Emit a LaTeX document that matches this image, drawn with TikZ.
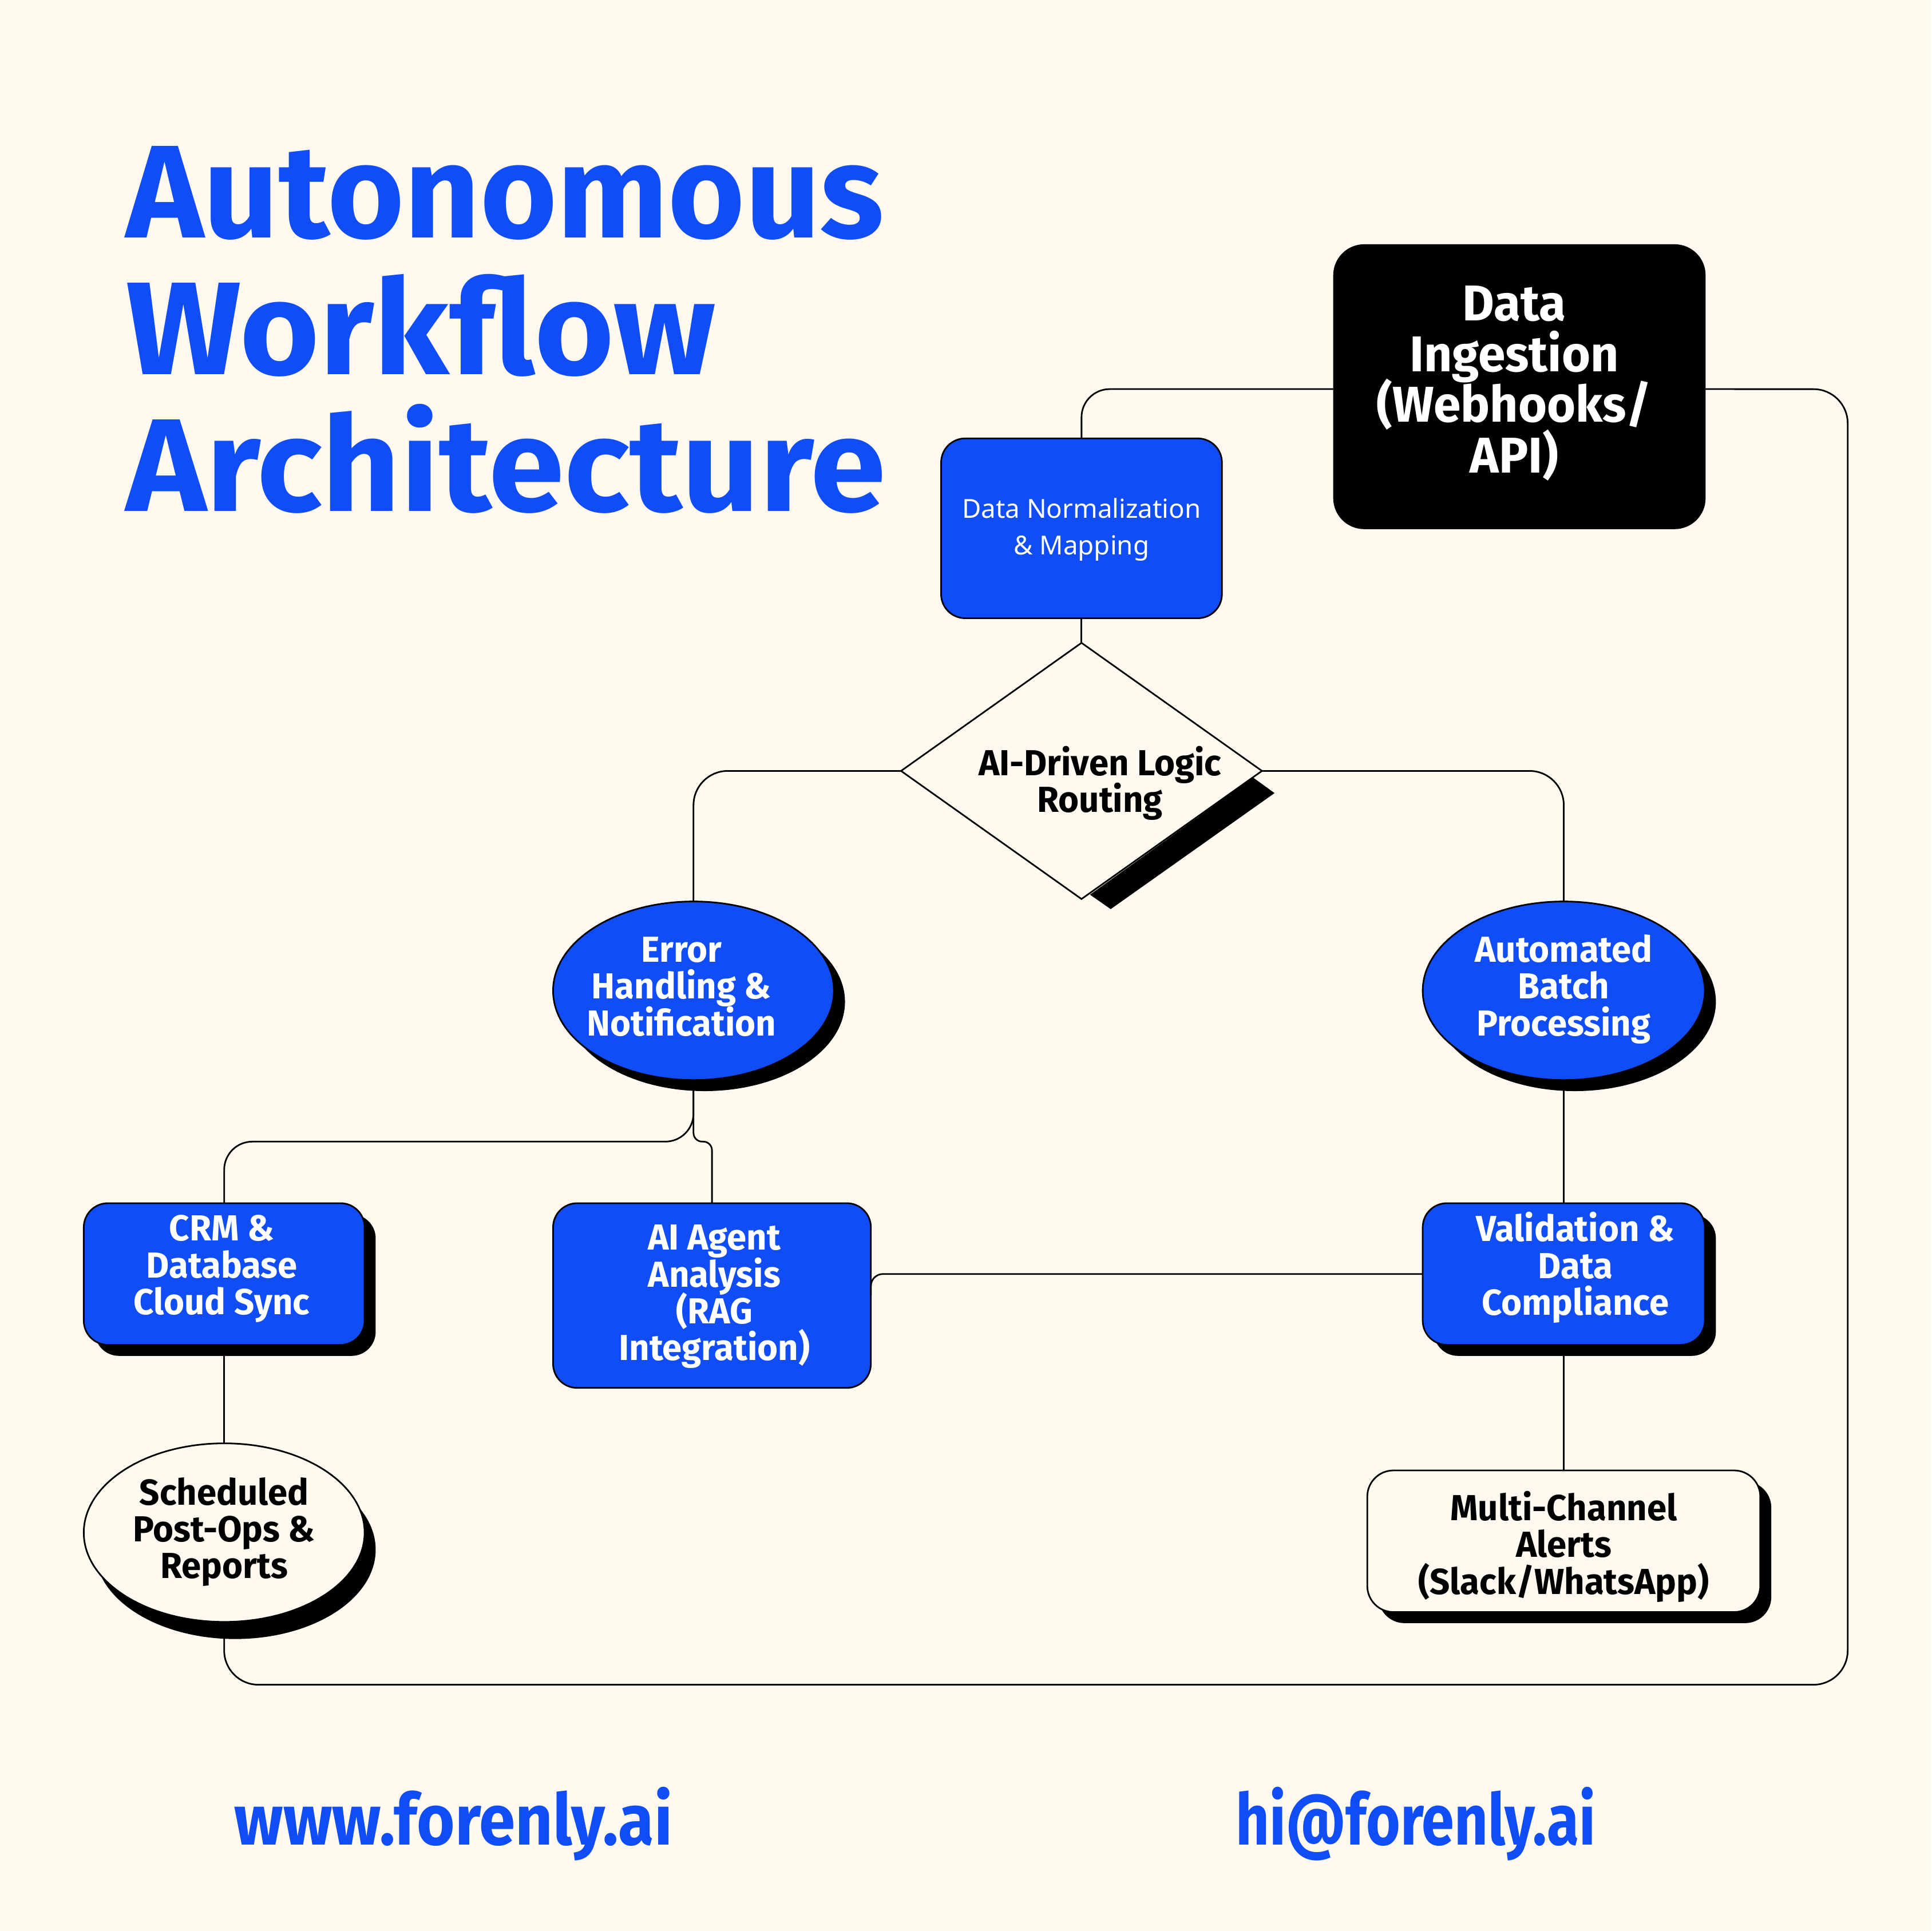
\documentclass[tikz,border=0pt]{standalone}
\usepackage{fontspec}
\usepackage{tikz}
\usetikzlibrary{shapes.geometric,shadows}
\setmainfont{Noto Sans}
\newfontfamily\titlefont[FakeStretch=1.03]{Fira Sans}
\newfontfamily\firstfont[FakeStretch=0.996]{Fira Sans}
\newfontfamily\headfont[FakeStretch=0.975]{Fira Sans}
\newfontfamily\sitefont[FakeStretch=0.914]{Fira Sans}
\newfontfamily\mailfont[FakeStretch=0.82]{Fira Sans}
\lineskiplimit=-30pt
\definecolor{paper}{HTML}{FFF9F0}
\definecolor{brand}{HTML}{114DF5}
\def\pu{0.21524mm}
\tikzset{
  hardshadow/.style={general shadow={shadow xshift=5.5pt,shadow yshift=-5.5pt,fill=black}},
  deepshadow/.style={general shadow={shadow xshift=5.5pt,shadow yshift=-8.5pt,fill=black}},
  shape base/.style={draw=black,line width=0.8pt,inner sep=0pt,outer sep=0pt},
  bluebox/.style={shape base,rectangle,rounded corners=12pt,fill=brand},
  paperbox/.style={shape base,rectangle,rounded corners=13pt,fill=paper},
  blueoval/.style={shape base,ellipse,fill=brand},
  paperoval/.style={shape base,ellipse,fill=paper},
  smalltext/.style={font=\headfont\bfseries\fontsize{18}{18.3}\selectfont,align=center},
  link/.style={draw=black,line width=0.8pt},
}
\begin{document}
\begin{tikzpicture}[x=\pu,y=-\pu]
    \useasboundingbox (0,0) rectangle (1568,1568);
    \fill[paper] (0,0) rectangle (1568,1568);

    % title and footer
    \node[anchor=base west,text=brand,align=left,inner sep=0pt,font=\titlefont\bfseries\fontsize{65.7}{68}\selectfont] (title) at (102,415) {{\firstfont\bfseries Autonomous}\\Workflow\\Architecture};
    \node[anchor=base west,text=brand,inner sep=0pt,font=\sitefont\bfseries\fontsize{35.5}{38}\selectfont] (site) at (190,1498) {www.forenly.ai};
    \node[anchor=base west,text=brand,inner sep=0pt,font=\mailfont\bfseries\fontsize{35.5}{38}\selectfont] (mail) at (1003,1498) {hi@forenly.ai};

    % shapes
    \node[shape base,rectangle,rounded corners=15pt,fill=black,minimum width=301*\pu,minimum height=230*\pu,
      label={[text=white,align=center,yshift=1.6pt,xshift=-2.6pt,font=\headfont\bfseries\fontsize{25}{25.2}\selectfont]center:{Data\\Ingestion\\(Webhooks/\\API)}}] (ingest) at (1233.5,314) {};
    \node[bluebox,minimum width=228*\pu,minimum height=146*\pu,
      label={[text=white,align=center,yshift=-0.6pt,font=\fontsize{13}{18.4}\selectfont]center:{Data Normalization\\\& Mapping}}] (norm) at (878,429) {};

    \fill[black] (1017.4,631.5) -- (1034.7,644) -- (901.7,738.2) -- (884.9,726.5) -- cycle;
    \node[shape base,diamond,aspect=1.409,fill=paper,minimum width=293*\pu,minimum height=208*\pu,
      label={[text=black,xshift=9.2pt,yshift=-6.1pt,smalltext]center:{AI-Driven Logic\\Routing}}] (routing) at (878,626) {};

    \node[blueoval,hardshadow,minimum width=228*\pu,minimum height=145*\pu,
      label={[text=white,xshift=-6pt,yshift=2pt,smalltext]center:{Error\\Handling \&\\Notification}}] (error) at (563,804.5) {};
    \node[blueoval,hardshadow,minimum width=229*\pu,minimum height=145*\pu,
      label={[text=white,yshift=0.8pt,smalltext]center:{Automated\\Batch\\Processing}}] (batch) at (1269.5,804.5) {};

    \node[bluebox,hardshadow,minimum width=228*\pu,minimum height=115*\pu,
      label={[text=white,xshift=-1.2pt,yshift=2.6pt,smalltext]center:{CRM \&\\Database\\Cloud Sync}}] (crm) at (182,1034.5) {};
    \node[bluebox,minimum width=258*\pu,minimum height=150*\pu,
      label={[text=white,xshift=1.2pt,yshift=-0.6pt,smalltext]center:{AI Agent\\Analysis\\(RAG\\Integration)}}] (agent) at (578,1052) {};
    \node[bluebox,hardshadow,minimum width=229*\pu,minimum height=115*\pu,
      label={[text=white,xshift=5.8pt,yshift=3.2pt,smalltext]center:{Validation \&\\Data\\Compliance}}] (valid) at (1269.5,1034.5) {};

    \node[paperoval,deepshadow,minimum width=228*\pu,minimum height=145*\pu,
      label={[text=black,yshift=0.3pt,smalltext]center:{Scheduled\\Post-Ops \&\\Reports}}] (post) at (182,1244.5) {};
    \node[paperbox,hardshadow,minimum width=319*\pu,minimum height=115*\pu,
      label={[text=black,yshift=-2.7pt,smalltext]center:{Multi-Channel\\Alerts\\(Slack/WhatsApp)}}] (alerts) at (1269.5,1251.5) {};

    % connectors
    \draw[link,rounded corners=14pt] ([yshift=-1.2pt]ingest.west) -| (norm.north);
    \draw[link,rounded corners=17pt] ([yshift=-1.2pt]ingest.east) -- (1500,316) |- (1400,1368) -- (182,1368) -- (post.south);
    \draw[link] (norm.south) -- (routing.north);
    \draw[link,rounded corners=17pt] (routing.west) -| (error.north);
    \draw[link,rounded corners=17pt] (routing.east) -| (batch.north);
    \draw[link,rounded corners=14pt] (error.south) -- ++(0,50) -| (crm.north);
    \draw[link,rounded corners=4.3pt] (error.south) -- ++(0,50) -| (agent.north);
    \draw[link] (batch.south) -- (valid.north);
    \draw[link,rounded corners=6pt] (valid.west) -| (agent.east);
    \draw[link] (valid.south) -- (alerts.north);
    \draw[link] (crm.south) -- (post.north);
\end{tikzpicture}
\end{document}
